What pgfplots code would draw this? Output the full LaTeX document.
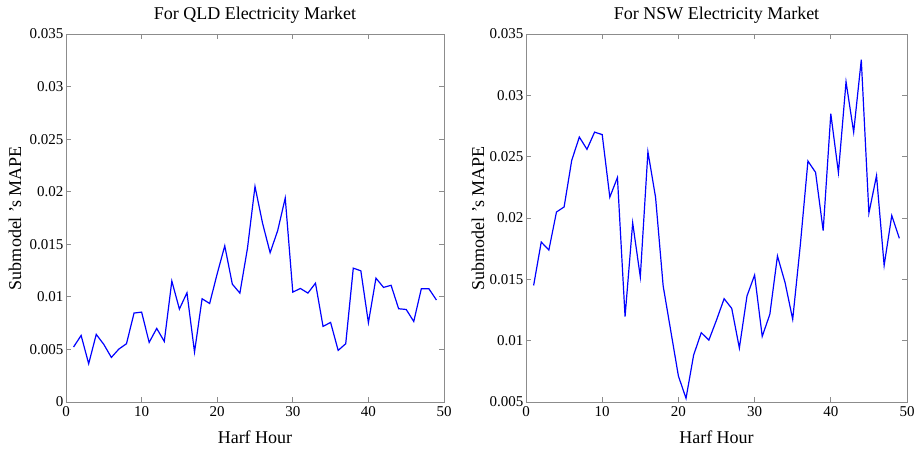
\documentclass[border=0pt]{standalone}
\usepackage{fontspec}
\setmainfont{Liberation Serif}
\usepackage{pgfplots}
\pgfplotsset{compat=1.18}
\definecolor{axgray}{RGB}{140,140,140}
\pgfplotsset{
  myax/.style={
    scale only axis,
    width=378pt, height=368pt,
    xmin=0, xmax=50,
    xtick={0,10,20,30,40,50},
    scaled y ticks=false,
    tick align=inside,
    major tick length=5pt,
    axis line style={axgray, line width=0.8pt},
    every tick/.style={axgray, line width=0.8pt},
    tick label style={font=\fontsize{15}{18}\selectfont, black},
    label style={font=\fontsize{18}{21}\selectfont},
    title style={font=\fontsize{18}{21}\selectfont, at={(axis description cs:0.5,1)}, anchor=center, yshift=13pt},
    xlabel style={at={(axis description cs:0.5,0)}, anchor=center, yshift=-35pt},
    /pgf/number format/assume math mode=true,
    xticklabel style={yshift=-1pt},
    yticklabel style={xshift=1pt},
  }
}
\begin{document}
\begin{tikzpicture}[x=1pt,y=1pt]
\path[use as bounding box] (0,0) rectangle (921,448);
\begin{axis}[myax, at={(66pt,46pt)}, anchor=south west,
  ymin=0, ymax=0.035,
  ytick={0,0.005,0.01,0.015,0.02,0.025,0.03,0.035},
  yticklabels={0,0.005,0.01,0.015,0.02,0.025,0.03,0.035},
  title={For QLD Electricity Market},
  xlabel={Harf Hour},
  ylabel={Submodel ’s MAPE},
  ylabel style={at={(axis description cs:0,0.5)}, anchor=center, yshift=51pt},
]
\addplot[blue, line width=1.2pt] coordinates {
(1,0.00523) (2,0.00633) (3,0.00364) (4,0.00643) (5,0.00548) (6,0.00424) (7,0.00504) (8,0.00554) (9,0.00846) (10,0.00855)
(11,0.00567) (12,0.0070) (13,0.00576) (14,0.0115) (15,0.00884) (16,0.01039) (17,0.00475) (18,0.00982) (19,0.00937) (20,0.0122)
(21,0.01485) (22,0.01121) (23,0.01036) (24,0.0146) (25,0.0205) (26,0.0170) (27,0.0142) (28,0.0163) (29,0.0194) (30,0.01045)
(31,0.0108) (32,0.01036) (33,0.0113) (34,0.00719) (35,0.00757) (36,0.00491) (37,0.00554) (38,0.01273) (39,0.01248) (40,0.00754)
(41,0.01178) (42,0.0109) (43,0.0111) (44,0.00887) (45,0.0088) (46,0.00766) (47,0.01077) (48,0.01077) (49,0.0097)
};
\end{axis}
\begin{axis}[myax, at={(526pt,46pt)}, anchor=south west, width=381pt,
  ymin=0.005, ymax=0.035,
  ytick={0.005,0.01,0.015,0.02,0.025,0.03,0.035},
  yticklabels={0.005,0.01,0.015,0.02,0.025,0.03,0.035},
  title={For NSW Electricity Market},
  xlabel={Harf Hour},
  ylabel={Submodel ’s MAPE},
  ylabel style={at={(axis description cs:0,0.5)}, anchor=center, yshift=48pt},
]
\addplot[blue, line width=1.2pt] coordinates {
(1,0.0145) (2,0.01804) (3,0.01739) (4,0.02049) (5,0.0209) (6,0.0247) (7,0.0266) (8,0.0256) (9,0.0270) (10,0.0268)
(11,0.0217) (12,0.0233) (13,0.01196) (14,0.0196) (15,0.0152) (16,0.0254) (17,0.0217) (18,0.01446) (19,0.01079) (20,0.00712)
(21,0.0053) (22,0.00883) (23,0.01065) (24,0.01005) (25,0.01168) (26,0.01342) (27,0.01263) (28,0.0094) (29,0.01364) (30,0.01535)
(31,0.01035) (32,0.01215) (33,0.0169) (34,0.01473) (35,0.01174) (36,0.0178) (37,0.02464) (38,0.02372) (39,0.01897) (40,0.0285)
(41,0.0237) (42,0.0311) (43,0.0270) (44,0.0329) (45,0.0204) (46,0.02345) (47,0.01614) (48,0.0202) (49,0.01834)
};
\end{axis}
\end{tikzpicture}
\end{document}
